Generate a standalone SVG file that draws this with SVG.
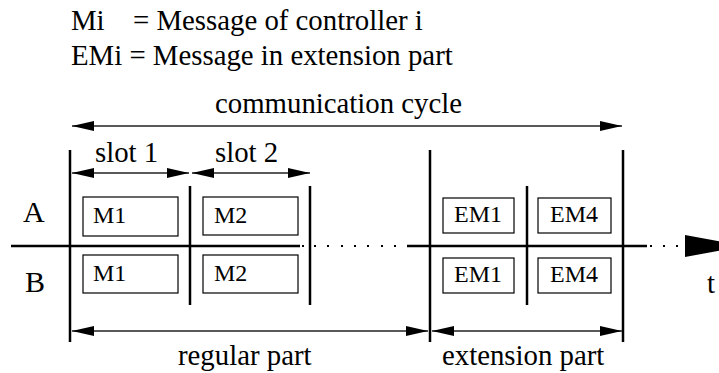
<svg xmlns="http://www.w3.org/2000/svg" width="719" height="373" viewBox="0 0 719 373" font-family="'Liberation Serif', 'DejaVu Serif', serif">
  <defs>
    <marker id="ah" viewBox="0 0 22 10" refX="22" refY="5" markerWidth="22" markerHeight="10" markerUnits="userSpaceOnUse" orient="auto-start-reverse">
      <path d="M0,0 L22,5 L0,10 Z" fill="#000"/>
    </marker>
  </defs>
  <style>
    text { fill: #000; }
    .lbl { font-size: 28.8px; }
    .ch { font-size: 30px; }
    .msg { font-size: 24px; }
    .dim { stroke: #222; stroke-width: 1.3; fill: none; marker-start: url(#ah); marker-end: url(#ah); }
    .bar { stroke: #000; stroke-width: 2.5; fill: none; }
    .box { stroke: #000; stroke-width: 1.2; fill: #fff; }
    .dot { fill: #000; }
  </style>

  <!-- legend -->
  <g id="legend">
    <text class="lbl" x="71" y="30">Mi</text>
    <text class="lbl" x="133" y="30">= Message of controller i</text>
    <text class="lbl" x="71" y="65">EMi = Message in extension part</text>
  </g>

  <!-- channel labels -->
  <g id="channels">
    <text class="ch" x="23" y="222">A</text>
    <text class="ch" x="25" y="292">B</text>
    <text class="lbl" x="707" y="293">t</text>
  </g>

  <!-- time axis, slot boundaries and dimension arrows -->
  <g id="connectors">
    <line class="bar" x1="11" y1="246" x2="300" y2="246"/>
    <line class="bar" x1="407" y1="246" x2="647" y2="246"/>
    <g class="dot">
      <rect x="302" y="245" width="2" height="2"/>
      <rect x="314" y="245" width="2" height="2"/>
      <rect x="327" y="245" width="2" height="2"/>
      <rect x="341" y="245" width="2" height="2"/>
      <rect x="354" y="245" width="2" height="2"/>
      <rect x="367" y="245" width="2" height="2"/>
      <rect x="381" y="245" width="2" height="2"/>
      <rect x="394" y="245" width="2" height="2"/>
      <rect x="650" y="245" width="2" height="2"/>
      <rect x="663" y="245" width="2" height="2"/>
      <rect x="676" y="245" width="2" height="2"/>
    </g>
    <polygon points="685,235 745,246 685,257" fill="#000"/>

    <line class="bar" x1="70" y1="150" x2="70" y2="342"/>
    <line class="bar" x1="190" y1="186" x2="190" y2="305"/>
    <line class="bar" x1="310" y1="186" x2="310" y2="305"/>
    <line class="bar" x1="430" y1="150" x2="430" y2="342"/>
    <line class="bar" x1="527" y1="186" x2="527" y2="305"/>
    <line class="bar" x1="623" y1="150" x2="623" y2="342"/>

    <line class="dim" x1="72" y1="126" x2="622" y2="126"/>
    <line class="dim" x1="72" y1="173" x2="189" y2="173"/>
    <line class="dim" x1="192" y1="173" x2="310" y2="173"/>
    <line class="dim" x1="72" y1="331" x2="428" y2="331"/>
    <line class="dim" x1="432" y1="331" x2="622" y2="331"/>
  </g>

  <!-- dimension labels -->
  <g id="dimension-labels">
    <text class="lbl" x="215" y="113">communication cycle</text>
    <text class="lbl" x="95" y="162">slot 1</text>
    <text class="lbl" x="215" y="162">slot 2</text>
    <text class="lbl" x="178" y="365">regular part</text>
    <text class="lbl" x="442" y="365">extension part</text>
  </g>

  <!-- message frames, channel A -->
  <g id="a-m1"><rect class="box" x="83" y="197" width="95" height="39"/><text class="msg" x="93" y="222.5">M1</text></g>
  <g id="a-m2"><rect class="box" x="203" y="197" width="95" height="38"/><text class="msg" x="214" y="222.5">M2</text></g>
  <g id="a-em1"><rect class="box" x="443" y="198" width="71" height="35"/><text class="msg" x="454" y="222">EM1</text></g>
  <g id="a-em4"><rect class="box" x="538" y="198" width="73" height="35"/><text class="msg" x="550" y="222">EM4</text></g>

  <!-- message frames, channel B -->
  <g id="b-m1"><rect class="box" x="83" y="255" width="95" height="38"/><text class="msg" x="93" y="280.5">M1</text></g>
  <g id="b-m2"><rect class="box" x="203" y="255" width="95" height="38"/><text class="msg" x="214" y="280.5">M2</text></g>
  <g id="b-em1"><rect class="box" x="443" y="258" width="71" height="35"/><text class="msg" x="454" y="282">EM1</text></g>
  <g id="b-em4"><rect class="box" x="538" y="258" width="73" height="35"/><text class="msg" x="550" y="282">EM4</text></g>
</svg>
